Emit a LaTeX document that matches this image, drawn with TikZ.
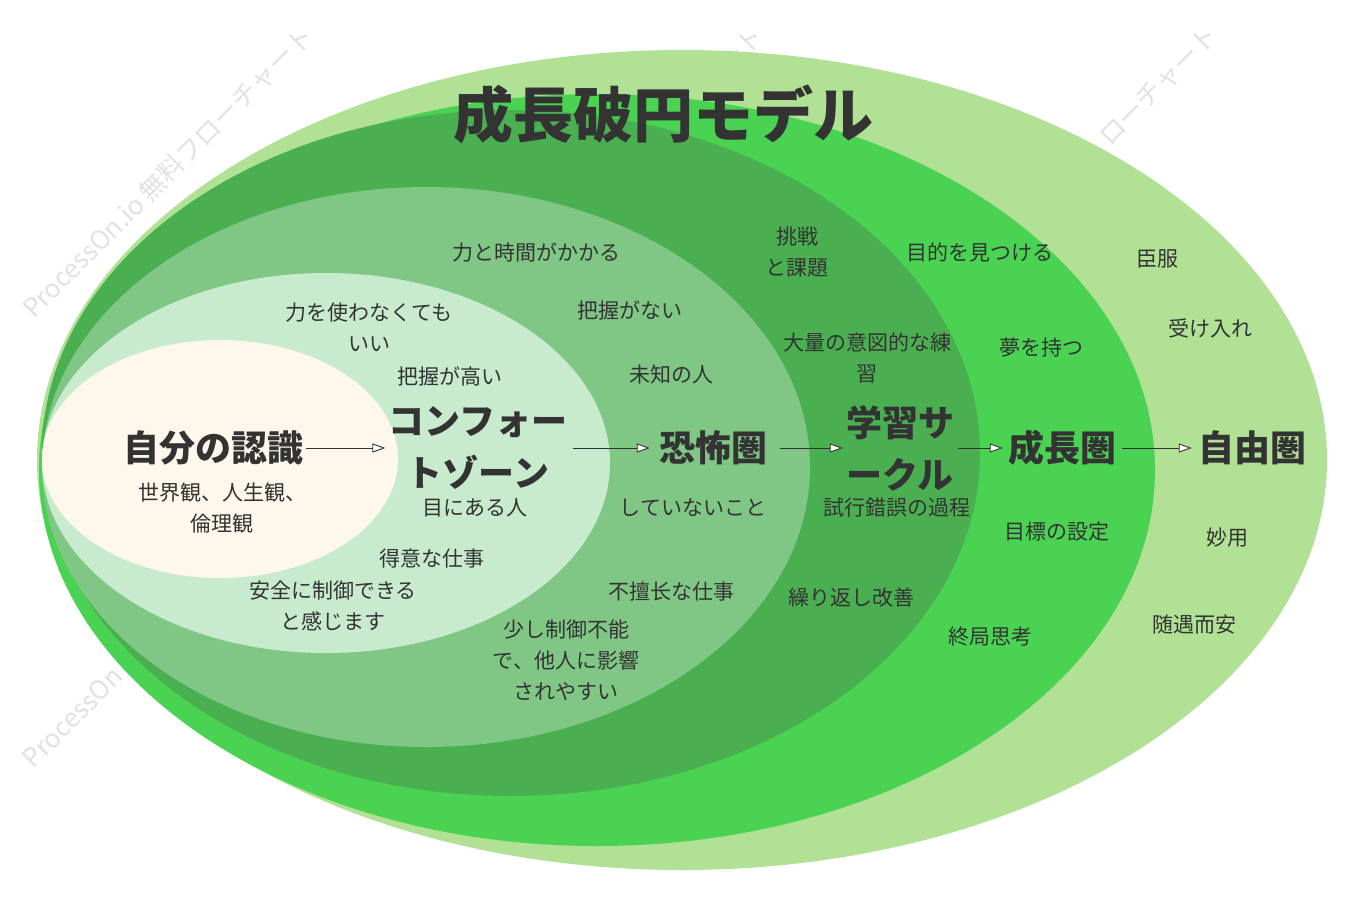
\documentclass[tikz,border=0pt]{standalone}
\usepackage{fontspec}
\newfontfamily\jp{Noto Sans CJK JP}
\usetikzlibrary{arrows.meta}
\definecolor{cA}{HTML}{B0E194}
\definecolor{cB}{HTML}{4AD352}
\definecolor{cC}{HTML}{4AAF50}
\definecolor{cD}{HTML}{80C786}
\definecolor{cE}{HTML}{C8EBCD}
\definecolor{cF}{HTML}{FDF8EB}
\definecolor{txt}{HTML}{333333}
\definecolor{wmgray}{HTML}{E2E2E2}
\tikzset{
  lbl/.style={font=\jp\fontsize{21}{31}\selectfont, text=txt, align=center, inner sep=0pt},
  big/.style={font=\jp\fontsize{36}{52}\selectfont\bfseries, text=txt, align=center, inner sep=0pt},
  ttl/.style={font=\jp\fontsize{60}{60}\selectfont\bfseries, text=txt, inner sep=0pt},
  arr/.style={draw=txt, line width=0.9pt, -{Triangle[length=13pt,width=9pt,fill=white]}},
  wm/.style={font=\jp\fontsize{26}{26}\selectfont, text=wmgray, rotate=45, inner sep=0pt}
}
\begin{document}
\begin{tikzpicture}[x=1pt,y=-1pt]
\useasboundingbox (0,0) rectangle (1364,908);
\fill[white] (0,0) rectangle (1364,908);
% watermarks (only the parts not hidden by the zones)
\node[wm] (w1) at (168,172) {ProcessOn.io 無料フローチャート};
\node[wm, anchor=east] (w2) at (759,31) {ート};
\node[wm, anchor=east] (w3) at (1214,31) {ローチャート};
\node[wm, anchor=west] (w4) at (27,763) {ProcessOn};
% zones
\fill[cA] (682,460) ellipse [x radius=645pt, y radius=410pt];
\fill[cB] (597,470) ellipse [x radius=558pt, y radius=376pt];
\fill[cC] (511,453) ellipse [x radius=469pt, y radius=343pt];
\fill[cD] (426,467) ellipse [x radius=384pt, y radius=280pt];
\fill[cE] (326,463) ellipse [x radius=284pt, y radius=190pt];
\fill[cF] (220,459) ellipse [x radius=178pt, y radius=119pt];
% title
\node[ttl] (title) at (663,114) {成長破円モデル};
% main labels
\node[big] (self) at (213,448) {自分の認識};
\node[big] (comfort) at (478,448) {コンフォー\\トゾーン};
\node[big] (fear) at (713,448) {恐怖圏};
\node[big] (learn) at (900,448) {学習サ\\ークル};
\node[big] (grow) at (1062,448) {成長圏};
\node[big] (free) at (1252,448) {自由圏};
% arrows
\draw[arr, shorten <=3pt, shorten >=3pt] (self.east) -- (comfort.west);
\draw[arr, shorten <=5pt, shorten >=9pt] (comfort.east) -- (fear.west);
\draw[arr, shorten <=13pt, shorten >=3pt] (fear.east) -- (learn.west);
\draw[arr, shorten <=4pt, shorten >=5pt] (learn.east) -- (grow.west);
\draw[arr, shorten <=6pt, shorten >=6pt] (grow.east) -- (free.west);
% small labels
\node[lbl] (t1) at (536,252) {力と時間がかかる};
\node[lbl] (t2) at (797,252) {挑戦\\と課題};
\node[lbl] (t3) at (980,252) {目的を見つける};
\node[lbl] (t4) at (1157,259) {臣服};
\node[lbl] (t5) at (369,327) {力を使わなくても\\いい};
\node[lbl] (t6) at (630,310) {把握がない};
\node[lbl] (t7) at (1210,328) {受け入れ};
\node[lbl] (t8) at (867,358) {大量の意図的な練\\習};
\node[lbl] (t9) at (1041,348) {夢を持つ};
\node[lbl] (t10) at (450,376) {把握が高い};
\node[lbl] (t11) at (671,375) {未知の人};
\node[lbl] (t12) at (222,508) {世界観、人生観、\\倫理観};
\node[lbl] (t13) at (475,508) {目にある人};
\node[lbl] (t14) at (693,508) {していないこと};
\node[lbl] (t15) at (897,508) {試行錯誤の過程};
\node[lbl] (t16) at (1057,532) {目標の設定};
\node[lbl] (t17) at (1227,538) {妙用};
\node[lbl] (t18) at (432,559) {得意な仕事};
\node[lbl] (t19) at (333,606) {安全に制御できる\\と感じます};
\node[lbl] (t20) at (671,592) {不擅长な仕事};
\node[lbl] (t21) at (851,598) {繰り返し改善};
\node[lbl] (t22) at (566,660) {少し制御不能\\で、他人に影響\\されやすい};
\node[lbl] (t23) at (990,637) {終局思考};
\node[lbl] (t24) at (1194,625) {随遇而安};
\end{tikzpicture}
\end{document}
